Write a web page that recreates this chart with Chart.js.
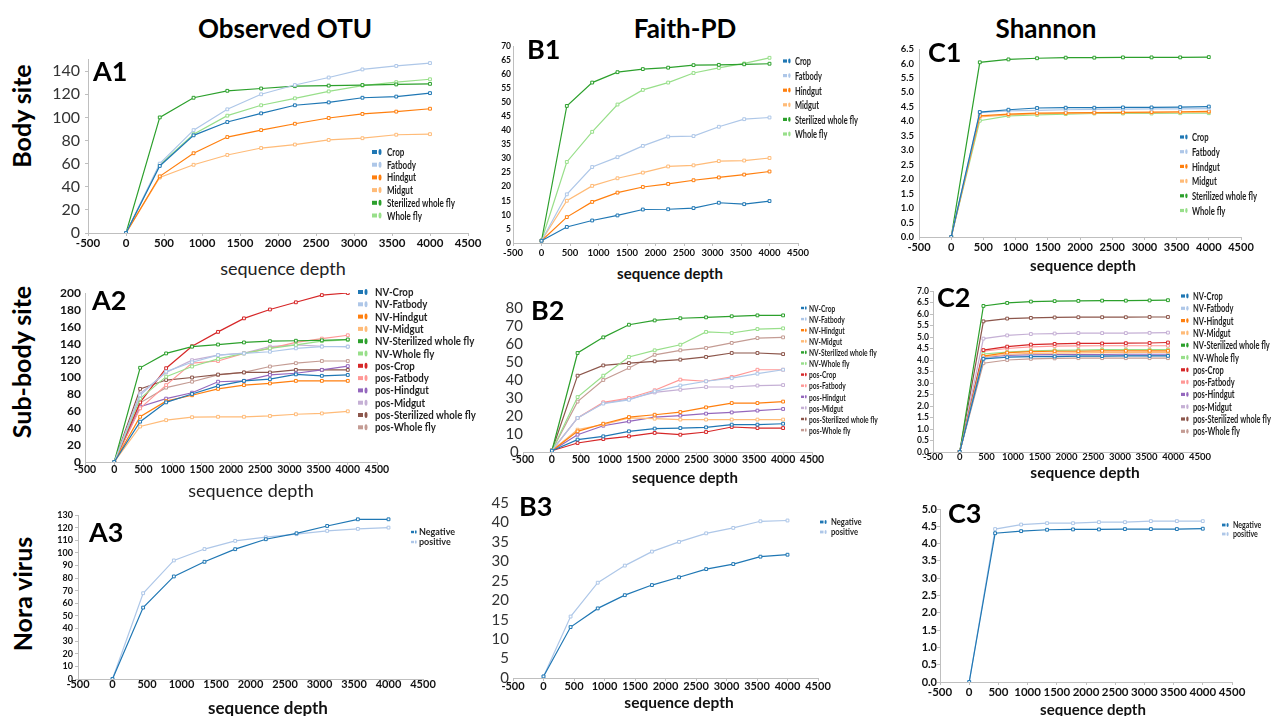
<!DOCTYPE html>
<html>
<head>
<meta charset="utf-8">
<title>Rarefaction curves</title>
<script src="https://cdn.jsdelivr.net/npm/chart.js"></script>
<style>
  body { margin: 0; background: #fff; font-family: Lato, "Open Sans", sans-serif; }
  #page { position: relative; width: 1271px; height: 716px; overflow: hidden; background: #fff; }
  .lbl { position: absolute; white-space: nowrap; color: #000; line-height: 1; }
  .head { font-weight: 700; font-size: 26px; transform: translate(-50%, -50%); }
  .row { font-weight: 700; font-size: 25px; transform: translate(-50%, -50%) rotate(-90deg); }
  .panel { font-weight: 700; font-size: 27px; transform: translate(0, -50%); }
  .xt { font-size: 16px; font-weight: 700; color: #111; transform: translate(-50%, -50%); }
  .xt.light { font-weight: 400; font-size: 18px; color: #222; }
  canvas { position: absolute; }
</style>
</head>
<body>
<div id="page">
  <div class="lbl head" style="left:285px; top:28px">Observed OTU</div>
  <div class="lbl head" style="left:685px; top:28px">Faith-PD</div>
  <div class="lbl head" style="left:1046px; top:28px">Shannon</div>

  <div class="lbl row" style="left:21px; top:116px">Body site</div>
  <div class="lbl row" style="left:21px; top:362px">Sub-body site</div>
  <div class="lbl row" style="left:22px; top:594px">Nora virus</div>
</div>

<script>
// Profundidade de sequenciamento (eixo x)
const depths = [0, 444, 889, 1333, 1778, 2222, 2667, 3111, 3556, 4000];
const depthsC2 = [0, 444, 889, 1333, 1778, 2222, 2667, 3111, 3556, 3900];
const depthTicks = [-500, 0, 500, 1000, 1500, 2000, 2500, 3000, 3500, 4000, 4500];

// Grupos e cores
const bodySites = ['Crop', 'Fatbody', 'Hindgut', 'Midgut', 'Sterilized whole fly', 'Whole fly'];
const subSites = ['NV-Crop', 'NV-Fatbody', 'NV-Hindgut', 'NV-Midgut', 'NV-Sterilized whole fly', 'NV-Whole fly',
    'pos-Crop', 'pos-Fatbody', 'pos-Hindgut', 'pos-Midgut', 'pos-Sterilized whole fly', 'pos-Whole fly'];
const noraGroups = ['Negative', 'positive'];

const bodyColors = ['#1f77b4', '#aec7e8', '#ff7f0e', '#ffbb78', '#2ca02c', '#98df8a'];
const subColors = ['#1f77b4', '#aec7e8', '#ff7f0e', '#ffbb78', '#2ca02c', '#98df8a',
    '#d62728', '#ff9896', '#9467bd', '#c5b0d5', '#8c564b', '#c49c94'];
const noraColors = ['#1f77b4', '#aec7e8'];

// Ticks do eixo y
const ticksA1 = [0, 20, 40, 60, 80, 100, 120, 140];
const ticksB1 = [0, 5, 10, 15, 20, 25, 30, 35, 40, 45, 50, 55, 60, 65, 70];
const ticksC1 = [0, 0.5, 1, 1.5, 2, 2.5, 3, 3.5, 4, 4.5, 5, 5.5, 6, 6.5];
const ticksA2 = [0, 20, 40, 60, 80, 100, 120, 140, 160, 180, 200];
const ticksB2 = [0, 10, 20, 30, 40, 50, 60, 70, 80];
const ticksC2 = [0, 0.5, 1, 1.5, 2, 2.5, 3, 3.5, 4, 4.5, 5, 5.5, 6, 6.5, 7];
const ticksA3 = [0, 10, 20, 30, 40, 50, 60, 70, 80, 90, 100, 110, 120, 130];
const ticksB3 = [0, 5, 10, 15, 20, 25, 30, 35, 40, 45];
const ticksC3 = [0, 0.5, 1, 1.5, 2, 2.5, 3, 3.5, 4, 4.5, 5];

// A1 - Observed OTU, body site
const otuCrop = [0, 58, 84.5, 96, 103.5, 110.5, 113, 117, 118, 121];
const otuFatbody = [0, 60, 89, 107, 120, 128, 134.5, 141.5, 144.5, 147];
const otuHindgut = [0, 49, 69, 83, 89, 94.5, 99.5, 103, 105, 107.5];
const otuMidgut = [0, 48, 59, 67.5, 73.5, 76.5, 80.5, 82, 85, 85.5];
const otuSterilized = [0, 100, 117, 123, 125, 127, 127.5, 128, 128.5, 129];
const otuWholeFly = [0, 59, 85.5, 101.5, 110.5, 116.5, 122.5, 127.5, 130.5, 133];

// B1 - Faith-PD, body site
const pdCrop = [0.8, 5.7, 8, 9.8, 11.9, 12, 12.4, 14.3, 13.8, 14.9];
const pdFatbody = [0.8, 17.3, 27, 30.5, 34.5, 37.8, 38, 41.3, 44, 44.6];
const pdHindgut = [0.8, 9.2, 14.6, 17.9, 19.9, 21, 22.3, 23.3, 24.3, 25.4];
const pdMidgut = [0.8, 15, 20.3, 23, 25, 27.2, 27.6, 29.1, 29.3, 30.2];
const pdSterilized = [0.8, 48.7, 57, 60.7, 61.8, 62.3, 63.2, 63.3, 63.5, 63.7];
const pdWholeFly = [0.8, 28.8, 39.5, 49.2, 54.4, 57, 60.4, 62.2, 63.8, 65.8];

// C1 - Shannon, body site
const shCrop = [0, 4.32, 4.4, 4.46, 4.47, 4.47, 4.48, 4.48, 4.49, 4.51];
const shFatbody = [0, 4.3, 4.36, 4.38, 4.4, 4.41, 4.42, 4.43, 4.43, 4.44];
const shHindgut = [0, 4.19, 4.25, 4.28, 4.29, 4.3, 4.31, 4.32, 4.33, 4.34];
const shMidgut = [0, 4.15, 4.22, 4.26, 4.28, 4.29, 4.3, 4.3, 4.31, 4.32];
const shSterilized = [0, 6.04, 6.14, 6.18, 6.2, 6.2, 6.21, 6.21, 6.21, 6.22];
const shWholeFly = [0, 4.02, 4.19, 4.22, 4.25, 4.27, 4.27, 4.27, 4.28, 4.28];

// A2 - Observed OTU, sub-body site
const otuNvCrop = [0, 47.7, 70.6, 80.5, 90, 96, 98, 103.7, 102, 103];
const otuNvFatbody = [0, 79, 107, 118, 126.5, 128.5, 130.5, 134.5, 136.5, 136.5];
const otuNvHindgut = [0, 53.5, 72, 79, 86.5, 91, 93, 96, 96, 96];
const otuNvMidgut = [0, 42, 49.5, 53, 53.5, 53.5, 54.5, 56.5, 57.5, 60];
const otuNvSterilized = [0, 111.5, 128.5, 136.5, 139, 141.5, 143, 143.5, 144, 145];
const otuNvWholeFly = [0, 75, 101, 113, 122, 128.5, 134.5, 138.5, 143, 144.5];
const otuPosCrop = [0, 70.5, 111, 137, 154, 170, 180.5, 189, 197.5, 200];
const otuPosFatbody = [0, 63.5, 91, 117, 119.5, 128.5, 134.5, 141.5, 146, 150];
const otuPosHindgut = [0, 65.5, 75, 82, 95, 96, 103, 105, 109, 113.5];
const otuPosMidgut = [0, 81, 106, 120.5, 126.5, 129, 136.5, 138.5, 137, 136.5];
const otuPosSterilized = [0, 86.5, 97, 100, 103.5, 106, 106, 109, 109, 109];
const otuPosWholeFly = [0, 70, 88, 95, 103, 106, 113, 117, 119.5, 119.5];

// B2 - Faith-PD, sub-body site
const pdNvCrop = [0.7, 6.9, 8.7, 11.5, 13, 13.3, 13.7, 15.2, 15.2, 15.7];
const pdNvFatbody = [0.7, 18.9, 26.9, 29, 33.7, 36.9, 39.3, 41, 43.5, 45.7];
const pdNvHindgut = [0.7, 11.5, 15.7, 19.4, 20.7, 22.2, 24.8, 27.2, 27.2, 28];
const pdNvMidgut = [0.7, 12.4, 15.2, 19, 18.5, 18, 18, 18, 18, 18];
const pdNvSterilized = [0.7, 55, 63.7, 70.7, 73.1, 74.3, 74.8, 75.4, 75.9, 75.9];
const pdNvWholeFly = [0.7, 30.5, 42.4, 52.8, 56.5, 59.6, 66.7, 66.1, 68.3, 68.7];
const pdPosCrop = [0.7, 5, 7.2, 8.7, 10.6, 9.6, 11.1, 13.9, 13.3, 13.3];
const pdPosFatbody = [0.7, 18.9, 27.6, 30, 34.3, 40.2, 39.3, 41.7, 45.7, 45.7];
const pdPosHindgut = [0.7, 9.6, 14.6, 17, 19.4, 20.2, 21.3, 22, 23, 23.9];
const pdPosMidgut = [0.7, 18.9, 27.2, 29.4, 33.1, 34.6, 36.1, 36.1, 36.9, 37.2];
const pdPosSterilized = [0.7, 42.4, 48.1, 49.4, 50.4, 51.3, 52.8, 55, 55, 54.4];
const pdPosWholeFly = [0.7, 28, 40, 46.7, 54, 56.5, 57.8, 60.6, 63.3, 63.7];

// C2 - Shannon, sub-body site
const shNvCrop = [0, 4.05, 4.12, 4.15, 4.15, 4.17, 4.17, 4.18, 4.18, 4.18];
const shNvFatbody = [0, 4.08, 4.15, 4.17, 4.17, 4.18, 4.18, 4.19, 4.19, 4.19];
const shNvHindgut = [0, 4.17, 4.32, 4.36, 4.38, 4.38, 4.4, 4.4, 4.4, 4.4];
const shNvMidgut = [0, 4.13, 4.25, 4.29, 4.3, 4.31, 4.32, 4.32, 4.33, 4.33];
const shNvSterilized = [0, 6.35, 6.48, 6.54, 6.56, 6.57, 6.58, 6.58, 6.59, 6.6];
const shNvWholeFly = [0, 4.26, 4.34, 4.4, 4.42, 4.43, 4.45, 4.45, 4.45, 4.45];
const shPosCrop = [0, 4.43, 4.58, 4.67, 4.7, 4.72, 4.72, 4.73, 4.74, 4.76];
const shPosFatbody = [0, 4.38, 4.5, 4.57, 4.6, 4.61, 4.62, 4.62, 4.62, 4.62];
const shPosHindgut = [0, 4.1, 4.2, 4.22, 4.23, 4.24, 4.24, 4.25, 4.25, 4.25];
const shPosMidgut = [0, 4.93, 5.07, 5.13, 5.15, 5.17, 5.17, 5.17, 5.18, 5.19];
const shPosSterilized = [0, 5.68, 5.8, 5.83, 5.85, 5.86, 5.86, 5.86, 5.87, 5.87];
const shPosWholeFly = [0, 3.86, 4.0, 4.05, 4.07, 4.08, 4.08, 4.08, 4.08, 4.08];

// A3, B3, C3 - Nora virus
const otuNegative = [0, 56.6, 81.3, 92.9, 102.9, 110.8, 115.5, 121.3, 126.6, 126.6];
const otuPositive = [0, 68, 94, 103, 109.5, 112.4, 114.8, 117.4, 119, 120];
const pdNegative = [0.4, 13.1, 17.9, 21.3, 23.9, 25.9, 28, 29.3, 31.2, 31.7];
const pdPositive = [0.4, 15.8, 24.5, 28.9, 32.5, 35, 37.2, 38.6, 40.3, 40.5];
const shNegative = [0, 4.3, 4.36, 4.4, 4.41, 4.41, 4.42, 4.42, 4.42, 4.43];
const shPositive = [0, 4.42, 4.55, 4.59, 4.59, 4.62, 4.62, 4.65, 4.65, 4.65];

const FONTE = 'Lato, "Open Sans", sans-serif';
const cinzaEixo = '#bfbfbf';

// Legenda desenhada dentro do canvas (marcador + texto estreito)
function criarLegenda(p) {
    const L = p.legend;
    return {
        id: 'legendaPainel',
        afterDatasetsDraw(chart) {
            const ctx = chart.ctx;
            const ms = L.ms || 1;
            ctx.save();
            chart.data.datasets.forEach((ds, i) => {
                const x = L.mx - p.box.l;
                const y = L.y + i * L.dy - p.box.t;
                ctx.fillStyle = ds.borderColor;
                ctx.fillRect(x, y - 2 * ms, 5 * ms, 4 * ms);
                ctx.beginPath();
                ctx.ellipse(x + 8 * ms, y, 1.5 * ms, 3 * ms, 0, 0, Math.PI * 2);
                ctx.fill();
                ctx.save();
                ctx.translate(L.tx - p.box.l, y);
                ctx.scale(L.sx, 1);
                ctx.font = `bold ${L.size}px ${FONTE}`;
                ctx.fillStyle = '#1e1e1e';
                ctx.textBaseline = 'middle';
                ctx.fillText(ds.label, 0, 0.5);
                ctx.restore();
            });
            ctx.restore();
        }
    };
}

function addTexto(cls, txt, x, y) {
    const div = document.createElement('div');
    div.className = 'lbl ' + cls;
    div.style.left = x + 'px';
    div.style.top = y + 'px';
    div.textContent = txt;
    document.getElementById('page').appendChild(div);
    return div;
}

// Cria um painel (gráfico) posicionado na página
function criarPainel(p) {
    const w = p.box.r - p.box.l;
    const h = p.box.b - p.box.t;
    const canvas = document.createElement('canvas');
    canvas.width = w;
    canvas.height = h;
    canvas.style.left = p.box.l + 'px';
    canvas.style.top = p.box.t + 'px';
    canvas.style.width = w + 'px';
    canvas.style.height = h + 'px';
    document.getElementById('page').appendChild(canvas);

    const datasets = p.series.map((vals, i) => ({
        label: p.names[i],
        data: vals.map((v, j) => ({ x: p.xs[j], y: v })),
        borderColor: p.colors[i],
        backgroundColor: p.colors[i],
        borderWidth: 1.2,
        pointStyle: 'rect',
        pointRadius: 2,
        pointBorderWidth: 1,
        pointBackgroundColor: '#fff',
        pointBorderColor: p.colors[i],
        tension: 0
    }));

    const xPad = p.xOff - 3 - 0.6 * p.xSize;

    new Chart(canvas, {
        type: 'line',
        data: { datasets },
        options: {
            responsive: false,
            animation: false,
            events: [],
            layout: {
                padding: { left: 0, bottom: 0, top: p.plot.t - p.box.t, right: p.box.r - p.plot.r }
            },
            plugins: { legend: { display: false }, tooltip: { enabled: false } },
            scales: {
                x: {
                    type: 'linear',
                    min: -500,
                    max: 4500,
                    afterBuildTicks: s => { s.ticks = depthTicks.map(v => ({ value: v })); },
                    afterFit: s => { s.height = p.box.b - p.plot.b; },
                    grid: { display: true, drawOnChartArea: false, drawTicks: true, tickLength: 3, color: cinzaEixo },
                    border: { display: true, color: cinzaEixo },
                    ticks: {
                        autoSkip: false, maxRotation: 0, padding: xPad, color: '#111',
                        font: { family: FONTE, size: p.xSize, weight: 'bold' },
                        callback: v => String(v)
                    }
                },
                y: {
                    min: 0,
                    max: p.yMax,
                    afterBuildTicks: s => { s.ticks = p.yTicks.map(v => ({ value: v })); },
                    afterFit: s => { s.width = p.plot.l - p.box.l; },
                    grid: { display: true, drawOnChartArea: false, drawTicks: p.yTl > 0, tickLength: p.yTl, color: cinzaEixo },
                    border: { display: p.yLine !== false, color: cinzaEixo },
                    ticks: {
                        autoSkip: false, padding: p.yPad, crossAlign: p.yAlign || 'near',
                        color: p.yWeight === 'normal' ? '#333' : '#111',
                        font: { family: FONTE, size: p.ySize, weight: p.yWeight || 'bold' },
                        callback: v => p.dec ? Number(v).toFixed(1) : String(v)
                    }
                }
            }
        },
        plugins: [criarLegenda(p)]
    });

    addTexto('panel', p.tag, p.tagPos[0], p.tagPos[1]);
    const titulo = addTexto(p.titleLight ? 'xt light' : 'xt', 'sequence depth', p.titlePos[0], p.titlePos[1]);
    if (p.titleSize) titulo.style.fontSize = p.titleSize + 'px';
}

const paineis = [
    {
        tag: 'A1', tagPos: [93, 70], titlePos: [283, 268], titleLight: true,
        box: { l: 40, t: 45, r: 490, b: 256 }, plot: { l: 88, t: 57, r: 468, b: 233 },
        xs: depths, yMax: 150, yTicks: ticksA1, names: bodySites, colors: bodyColors,
        series: [otuCrop, otuFatbody, otuHindgut, otuMidgut, otuSterilized, otuWholeFly],
        xSize: 11.5, xOff: 10, ySize: 16, yWeight: 'normal', yTl: 3, yPad: 5,
        legend: { mx: 372, tx: 387, y: 152, dy: 12.7, size: 11, sx: 0.73 }
    },
    {
        tag: 'B1', tagPos: [527, 48], titlePos: [670, 273], titleSize: 15,
        box: { l: 490, t: 35, r: 870, b: 262 }, plot: { l: 513, t: 46, r: 798, b: 243 },
        xs: depths, yMax: 70, yTicks: ticksB1, names: bodySites, colors: bodyColors,
        series: [pdCrop, pdFatbody, pdHindgut, pdMidgut, pdSterilized, pdWholeFly],
        xSize: 9.5, xOff: 10, ySize: 8.5, yTl: 0, yPad: 2,
        legend: { mx: 783, tx: 795, y: 61, dy: 14.6, size: 12, sx: 0.62, ms: 0.8 }
    },
    {
        tag: 'C1', tagPos: [928, 51], titlePos: [1083, 265], titleSize: 15,
        box: { l: 890, t: 38, r: 1268, b: 258 }, plot: { l: 919, t: 49, r: 1241, b: 237 },
        xs: depths, yMax: 6.5, yTicks: ticksC1, dec: true, names: bodySites, colors: bodyColors,
        series: [shCrop, shFatbody, shHindgut, shMidgut, shSterilized, shWholeFly],
        xSize: 11, xOff: 10, ySize: 9.5, yTl: 0, yPad: 5,
        legend: { mx: 1180, tx: 1192, y: 137, dy: 14.7, size: 12, sx: 0.64, ms: 0.8 }
    },
    {
        tag: 'A2', tagPos: [92, 299], titlePos: [251, 490], titleLight: true,
        box: { l: 40, t: 280, r: 490, b: 480 }, plot: { l: 85, t: 293, r: 377, b: 462 },
        xs: depths, yMax: 200, yTicks: ticksA2, names: subSites, colors: subColors,
        series: [otuNvCrop, otuNvFatbody, otuNvHindgut, otuNvMidgut, otuNvSterilized, otuNvWholeFly,
            otuPosCrop, otuPosFatbody, otuPosHindgut, otuPosMidgut, otuPosSterilized, otuPosWholeFly],
        xSize: 10.5, xOff: 8, ySize: 12, yTl: 0, yPad: 4,
        legend: { mx: 358, tx: 375, y: 292, dy: 12.3, size: 11, sx: 0.88 }
    },
    {
        tag: 'B2', tagPos: [531, 309], titlePos: [685, 477], titleSize: 15,
        box: { l: 495, t: 295, r: 880, b: 472 }, plot: { l: 523, t: 308, r: 812, b: 452 },
        xs: depths, yMax: 80, yTicks: ticksB2, names: subSites, colors: subColors,
        series: [pdNvCrop, pdNvFatbody, pdNvHindgut, pdNvMidgut, pdNvSterilized, pdNvWholeFly,
            pdPosCrop, pdPosFatbody, pdPosHindgut, pdPosMidgut, pdPosSterilized, pdPosWholeFly],
        xSize: 10.5, xOff: 8, ySize: 15, yWeight: 'normal', yTl: 0, yPad: 0, yAlign: 'center', yLine: false,
        legend: { mx: 801, tx: 809, y: 308, dy: 11.1, size: 10, sx: 0.66, ms: 0.6 }
    },
    {
        tag: 'C2', tagPos: [937, 296], titlePos: [1085, 473], titleSize: 15.5,
        box: { l: 900, t: 282, r: 1271, b: 468 }, plot: { l: 933, t: 291, r: 1200, b: 452 },
        xs: depthsC2, yMax: 7, yTicks: ticksC2, dec: true, names: subSites, colors: subColors,
        series: [shNvCrop, shNvFatbody, shNvHindgut, shNvMidgut, shNvSterilized, shNvWholeFly,
            shPosCrop, shPosFatbody, shPosHindgut, shPosMidgut, shPosSterilized, shPosWholeFly],
        xSize: 9.5, xOff: 5, ySize: 8.5, yTl: 3, yPad: 1,
        legend: { mx: 1181, tx: 1193, y: 296, dy: 12.3, size: 11, sx: 0.68, ms: 0.8 }
    },
    {
        tag: 'A3', tagPos: [89, 531], titlePos: [268, 707], titleSize: 17,
        box: { l: 45, t: 505, r: 470, b: 698 }, plot: { l: 78, t: 515, r: 423, b: 679 },
        xs: depths, yMax: 130, yTicks: ticksA3, names: noraGroups, colors: noraColors,
        series: [otuNegative, otuPositive],
        xSize: 11, xOff: 5.5, ySize: 9, yTl: 3, yPad: 2,
        legend: { mx: 411, tx: 419, y: 532, dy: 10, size: 9, sx: 1.0, ms: 0.6 }
    },
    {
        tag: 'B3', tagPos: [519, 505], titlePos: [679, 703], titleSize: 15.5,
        box: { l: 480, t: 490, r: 880, b: 700 }, plot: { l: 513, t: 501, r: 818, b: 678 },
        xs: depths, yMax: 45, yTicks: ticksB3, names: noraGroups, colors: noraColors,
        series: [pdNegative, pdPositive],
        xSize: 11, xOff: 8.5, ySize: 15, yWeight: 'normal', yTl: 0, yPad: 4, yLine: false,
        legend: { mx: 820, tx: 831, y: 522, dy: 10, size: 9, sx: 0.85, ms: 0.7 }
    },
    {
        tag: 'C3', tagPos: [948, 512], titlePos: [1093, 709], titleSize: 15,
        box: { l: 900, t: 498, r: 1271, b: 705 }, plot: { l: 940, t: 509, r: 1232, b: 682 },
        xs: depths, yMax: 5, yTicks: ticksC3, dec: true, names: noraGroups, colors: noraColors,
        series: [shNegative, shPositive],
        xSize: 11.5, xOff: 10, ySize: 11, yTl: 3, yPad: 0,
        legend: { mx: 1222, tx: 1233, y: 525, dy: 9, size: 8.5, sx: 0.83, ms: 0.7 }
    }
];

paineis.forEach(criarPainel);
</script>
</body>
</html>
